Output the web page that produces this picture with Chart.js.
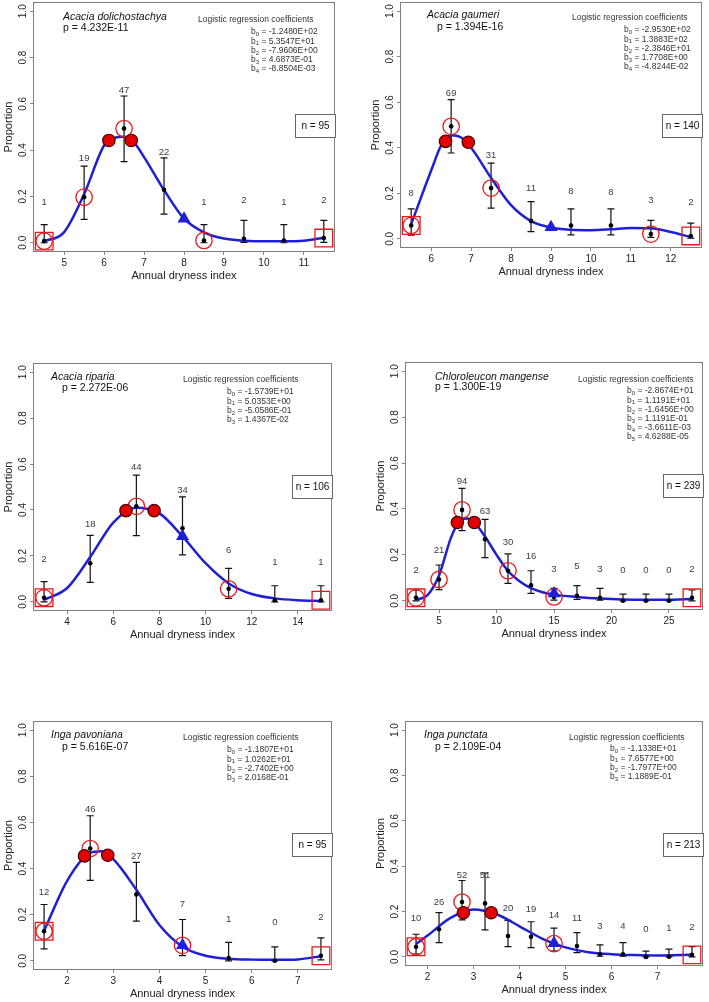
<!DOCTYPE html>
<html>
<head>
<meta charset="utf-8">
<script src="https://cdn.jsdelivr.net/npm/chart.js@4.4.1/dist/chart.umd.min.js"></script>
<style>
  body { margin: 0; background: #fff; }
  #wrap { position: relative; width: 709px; height: 1002px; overflow: hidden; background: #fff; }
  canvas { position: absolute; }
</style>
</head>
<body>
<div id="wrap"></div>
<script>
// ---- values ----
const yTicks = [0, 0.2, 0.4, 0.6, 0.8, 1.0];
const speciesNames = ['Acacia dolichostachya', 'Acacia gaumeri', 'Acacia riparia',
                      'Chloroleucon mangense', 'Inga pavoniana', 'Inga punctata'];
const pValues = ['4.232E-11', '1.394E-16', '2.272E-06', '1.300E-19', '5.616E-07', '2.109E-04'];
const nTotals = [95, 140, 106, 239, 95, 213];

// Acacia dolichostachya
const dolTicks = [5, 6, 7, 8, 9, 10, 11];
const dolX = [4.5, 5.5, 6.5, 7.5, 8.5, 9.5, 10.5, 11.5];
const dolProp = [0.007, 0.197, 0.493, 0.229, 0.010, 0.017, 0.010, 0.020];
const dolLo = [0, 0.101, 0.350, 0.124, 0, 0.002, 0, 0.002];
const dolHi = [0.078, 0.331, 0.634, 0.367, 0.078, 0.097, 0.078, 0.097];
const dolCount = [1, 19, 47, 22, 1, 2, 1, 2];
const dolCountY = [0.176, 0.363, 0.658, 0.392, 0.176, 0.183, 0.176, 0.183];
const dolCurveX = [4.5, 5, 5.5, 6, 6.25, 6.5, 6.75, 7, 7.5, 8, 8.5, 9, 9.5, 10, 10.5, 11, 11.5];
const dolCurveY = [0.006, 0.046, 0.21, 0.42, 0.452, 0.458, 0.432, 0.37, 0.228, 0.104, 0.045, 0.018, 0.009, 0.006, 0.006, 0.009, 0.022];
const dolCircleX = [4.5, 5.5, 6.5, 8.5];
const dolSquareX = [4.5, 11.5];
const dolRedX = [6.12, 6.68];
const dolRedY = [0.442, 0.442];
const dolTriX = [8.0];
const dolTriY = [0.104];
const dolCoef = ['-1.2480E+02', '5.3547E+01', '-7.9606E+00', '4.6873E-01', '-8.8504E-03'];

// Acacia gaumeri
const gauTicks = [6, 7, 8, 9, 10, 11, 12];
const gauX = [5.5, 6.5, 7.5, 8.5, 9.5, 10.5, 11.5, 12.5];
const gauProp = [0.059, 0.494, 0.223, 0.079, 0.059, 0.059, 0.021, 0.013];
const gauLo = [0.016, 0.377, 0.135, 0.032, 0.018, 0.018, 0.007, 0.003];
const gauHi = [0.132, 0.611, 0.333, 0.164, 0.132, 0.132, 0.081, 0.069];
const gauCount = [8, 69, 31, 11, 8, 8, 3, 2];
const gauCountY = [0.201, 0.641, 0.368, 0.223, 0.208, 0.204, 0.167, 0.161];
const gauCurveX = [5.5, 6, 6.25, 6.5, 6.75, 7, 7.5, 8, 8.5, 9, 9.5, 10, 10.5, 11, 11.5, 12, 12.5];
const gauCurveY = [0.065, 0.30, 0.41, 0.455, 0.445, 0.40, 0.268, 0.148, 0.078, 0.05, 0.04, 0.038, 0.042, 0.048, 0.047, 0.03, 0.008];
const gauCircleX = [5.5, 6.5, 7.5, 11.5];
const gauSquareX = [5.5, 12.5];
const gauRedX = [6.36, 6.93];
const gauRedY = [0.428, 0.424];
const gauTriX = [9.0];
const gauTriY = [0.051];
const gauCoef = ['-2.9530E+02', '1.3883E+02', '-2.3846E+01', '1.7708E+00', '-4.8244E-02'];

// Acacia riparia
const ripTicks = [4, 6, 8, 10, 12, 14];
const ripX = [3, 5, 7, 9, 11, 13, 15];
const ripProp = [0.018, 0.168, 0.416, 0.320, 0.057, 0.007, 0.007];
const ripLo = [0, 0.085, 0.288, 0.204, 0.015, 0, 0];
const ripHi = [0.088, 0.289, 0.552, 0.457, 0.146, 0.070, 0.070];
const ripCount = [2, 18, 44, 34, 6, 1, 1];
const ripCountY = [0.185, 0.336, 0.584, 0.486, 0.222, 0.172, 0.172];
const ripCurveX = [3, 4, 5, 6, 7, 8, 9, 10, 11, 12, 13, 14, 15];
const ripCurveY = [0.008, 0.06, 0.195, 0.345, 0.41, 0.385, 0.285, 0.168, 0.08, 0.034, 0.015, 0.007, 0.004];
const ripCircleX = [3, 7, 11];
const ripSquareX = [3, 15];
const ripRedX = [6.55, 7.77];
const ripRedY = [0.397, 0.397];
const ripTriX = [9.0];
const ripTriY = [0.285];
const ripCoef = ['-1.5739E+01', '5.0353E+00', '-5.0586E-01', '1.4367E-02'];

// Chloroleucon mangense
const chlTicks = [5, 10, 15, 20, 25];
const chlX = [3, 5, 7, 9, 11, 13, 15, 17, 19, 21, 23, 25, 27];
const chlProp = [0.013, 0.093, 0.396, 0.268, 0.131, 0.068, 0.017, 0.022, 0.013, 0, 0, 0, 0.013];
const chlLo = [0, 0.049, 0.306, 0.188, 0.076, 0.032, 0.003, 0.006, 0.003, 0, 0, 0, 0];
const chlHi = [0.047, 0.156, 0.49, 0.355, 0.204, 0.131, 0.054, 0.066, 0.054, 0.029, 0.029, 0.029, 0.047];
const chlCount = [2, 21, 94, 63, 30, 16, 3, 5, 3, 0, 0, 0, 2];
const chlCountY = [0.134, 0.218, 0.52, 0.389, 0.253, 0.192, 0.138, 0.148, 0.138, 0.131, 0.131, 0.131, 0.137];
const chlCurveX = [3, 4, 5, 6, 6.5, 7, 7.5, 8, 9, 10, 11, 12, 13, 14, 15, 17, 19, 21, 23, 25, 27];
const chlCurveY = [0.004, 0.025, 0.11, 0.27, 0.325, 0.355, 0.358, 0.345, 0.28, 0.2, 0.13, 0.085, 0.055, 0.037, 0.027, 0.017, 0.01, 0.006, 0.005, 0.005, 0.008];
const chlCircleX = [3, 5, 7, 11, 15];
const chlSquareX = [3, 27];
const chlRedX = [6.59, 8.07];
const chlRedY = [0.341, 0.341];
const chlTriX = [15];
const chlTriY = [0.032];
const chlCoef = ['-2.8674E+01', '1.1191E+01', '-1.6456E+00', '1.1191E-01', '-3.6611E-03', '4.6288E-05'];

// Inga pavoniana
const pavTicks = [2, 3, 4, 5, 6, 7];
const pavX = [1.5, 2.5, 3.5, 4.5, 5.5, 6.5, 7.5];
const pavProp = [0.128, 0.487, 0.288, 0.067, 0.012, 0, 0.022];
const pavLo = [0.052, 0.349, 0.172, 0.022, 0, 0, 0.004];
const pavHi = [0.244, 0.629, 0.427, 0.179, 0.08, 0.06, 0.099];
const pavCount = [12, 46, 27, 7, 1, 0, 2];
const pavCountY = [0.295, 0.656, 0.455, 0.244, 0.179, 0.167, 0.189];
const pavCurveX = [1.5, 2, 2.5, 2.75, 3, 3.5, 4, 4.5, 5, 5.5, 6, 6.5, 7, 7.5];
const pavCurveY = [0.13, 0.347, 0.468, 0.475, 0.441, 0.308, 0.155, 0.061, 0.022, 0.009, 0.005, 0.004, 0.006, 0.02];
const pavCircleX = [1.5, 2.5, 4.5];
const pavSquareX = [1.5, 7.5];
const pavRedX = [2.376, 2.88];
const pavRedY = [0.455, 0.458];
const pavTriX = [4.5];
const pavTriY = [0.067];
const pavCoef = ['-1.1807E+01', '1.0262E+01', '-2.7402E+00', '2.0168E-01'];

// Inga punctata
const punTicks = [2, 3, 4, 5, 6, 7];
const punX = [1.75, 2.25, 2.75, 3.25, 3.75, 4.25, 4.75, 5.25, 5.75, 6.25, 6.75, 7.25, 7.75];
const punProp = [0.045, 0.122, 0.242, 0.236, 0.092, 0.089, 0.059, 0.048, 0.012, 0.012, 0, 0.001, 0.009];
const punLo = [0.012, 0.063, 0.163, 0.119, 0.045, 0.041, 0.026, 0.019, 0.003, 0.003, 0, 0, 0];
const punHi = [0.1, 0.195, 0.337, 0.37, 0.161, 0.155, 0.127, 0.107, 0.053, 0.063, 0.026, 0.034, 0.045];
const punCount = [10, 26, 52, 51, 20, 19, 14, 11, 3, 4, 0, 1, 2];
const punCountY = [0.168, 0.242, 0.359, 0.359, 0.212, 0.209, 0.183, 0.17, 0.136, 0.136, 0.122, 0.124, 0.129];
const punCurveX = [1.75, 2, 2.5, 3, 3.5, 4, 4.5, 5, 5.5, 6, 6.5, 7, 7.5, 7.75];
const punCurveY = [0.057, 0.094, 0.172, 0.209, 0.188, 0.135, 0.08, 0.042, 0.021, 0.012, 0.008, 0.006, 0.008, 0.01];
const punCircleX = [1.75, 2.75, 4.75];
const punSquareX = [1.75, 7.75];
const punRedX = [2.78, 3.385];
const punRedY = [0.195, 0.195];
const punTriX = [4.75];
const punTriY = [0.06];
const punCoef = ['-1.1338E+01', '7.6577E+00', '-1.7977E+00', '1.1889E-01'];

// ---- layout ----
const FONT = "'Liberation Sans', Arial, sans-serif";
const RED = '#e8191c';
const BLUE = '#1f1fd8';

// box = plot frame [left, top, right, bottom] on the page; text offsets are from the frame's top-left
const panels = [
  { box: [33, 2, 335, 252], ticks: dolTicks, x: dolX, prop: dolProp, lo: dolLo, hi: dolHi,
    count: dolCount, countY: dolCountY, curveX: dolCurveX, curveY: dolCurveY,
    circles: dolCircleX, squares: dolSquareX, redX: dolRedX, redY: dolRedY, triX: dolTriX, triY: dolTriY,
    coef: dolCoef, sp: [30, 15], pv: [30, 26], lg: [165, 18], bc: [218, 30] },
  { box: [400, 2, 702, 248], ticks: gauTicks, x: gauX, prop: gauProp, lo: gauLo, hi: gauHi,
    count: gauCount, countY: gauCountY, curveX: gauCurveX, curveY: gauCurveY,
    circles: gauCircleX, squares: gauSquareX, redX: gauRedX, redY: gauRedY, triX: gauTriX, triY: gauTriY,
    coef: gauCoef, sp: [27, 13], pv: [37, 25], lg: [172, 16], bc: [224, 28] },
  { box: [33, 363, 332, 611], ticks: ripTicks, x: ripX, prop: ripProp, lo: ripLo, hi: ripHi,
    count: ripCount, countY: ripCountY, curveX: ripCurveX, curveY: ripCurveY,
    circles: ripCircleX, squares: ripSquareX, redX: ripRedX, redY: ripRedY, triX: ripTriX, triY: ripTriY,
    coef: ripCoef, sp: [18, 14], pv: [29, 25], lg: [150, 17], bc: [194, 29] },
  { box: [405, 362, 703, 610], ticks: chlTicks, x: chlX, prop: chlProp, lo: chlLo, hi: chlHi,
    count: chlCount, countY: chlCountY, curveX: chlCurveX, curveY: chlCurveY,
    circles: chlCircleX, squares: chlSquareX, redX: chlRedX, redY: chlRedY, triX: chlTriX, triY: chlTriY,
    coef: chlCoef, sp: [30, 15], pv: [30, 25], lg: [173, 18], bc: [222, 29] },
  { box: [33, 721, 332, 970], ticks: pavTicks, x: pavX, prop: pavProp, lo: pavLo, hi: pavHi,
    count: pavCount, countY: pavCountY, curveX: pavCurveX, curveY: pavCurveY,
    circles: pavCircleX, squares: pavSquareX, redX: pavRedX, redY: pavRedY, triX: pavTriX, triY: pavTriY,
    coef: pavCoef, sp: [18, 14], pv: [29, 26], lg: [150, 17], bc: [194, 29] },
  { box: [405, 721, 703, 966], ticks: punTicks, x: punX, prop: punProp, lo: punLo, hi: punHi,
    count: punCount, countY: punCountY, curveX: punCurveX, curveY: punCurveY,
    circles: punCircleX, squares: punSquareX, redX: punRedX, redY: punRedY, triX: punTriX, triY: punTriY,
    coef: punCoef, sp: [19, 14], pv: [30, 26], lg: [164, 17], bc: [205, 28] }
];

// error bars, count labels, frame, rotated y labels and the text blocks
function overlay(pn, k) {
  return {
    id: 'overlay',
    beforeDatasetsDraw(chart) {
      const { ctx, scales: { x, y } } = chart;
      ctx.save();
      ctx.strokeStyle = '#111';
      ctx.lineWidth = 1.2;
      pn.x.forEach((v, i) => {
        const px = x.getPixelForValue(v);
        const t = y.getPixelForValue(pn.hi[i]);
        const b = y.getPixelForValue(pn.lo[i]);
        ctx.beginPath();
        ctx.moveTo(px, t); ctx.lineTo(px, b);
        ctx.moveTo(px - 3.5, t); ctx.lineTo(px + 3.5, t);
        ctx.moveTo(px - 3.5, b); ctx.lineTo(px + 3.5, b);
        ctx.stroke();
      });
      ctx.restore();
    },
    afterDraw(chart) {
      const { ctx, chartArea: a, scales: { x, y } } = chart;
      ctx.save();
      ctx.strokeStyle = '#7f7f7f';
      ctx.lineWidth = 1;
      ctx.strokeRect(a.left + 0.5, a.top + 0.5, a.right - a.left - 1, a.bottom - a.top - 1);

      // y tick labels, turned like base R
      ctx.fillStyle = '#222';
      ctx.font = '10px ' + FONT;
      ctx.textAlign = 'center';
      ctx.textBaseline = 'middle';
      yTicks.forEach(v => {
        ctx.save();
        ctx.translate(a.left - 10, y.getPixelForValue(v));
        ctx.rotate(-Math.PI / 2);
        ctx.fillText(v.toFixed(1), 0, 0);
        ctx.restore();
      });

      // counts above the bars
      ctx.fillStyle = '#3c3c3c';
      ctx.font = '9.5px ' + FONT;
      pn.count.forEach((c, i) => {
        ctx.fillText(String(c), x.getPixelForValue(pn.x[i]), y.getPixelForValue(pn.countY[i]));
      });

      // species and p value
      ctx.textAlign = 'left';
      ctx.fillStyle = '#111';
      ctx.font = 'italic 10.5px ' + FONT;
      ctx.fillText(speciesNames[k], a.left + pn.sp[0], a.top + pn.sp[1]);
      ctx.font = '10.5px ' + FONT;
      ctx.fillText('p = ' + pValues[k], a.left + pn.pv[0], a.top + pn.pv[1]);

      // coefficients
      ctx.fillStyle = '#333';
      ctx.font = '8.5px ' + FONT;
      ctx.fillText('Logistic regression coefficients', a.left + pn.lg[0], a.top + pn.lg[1]);
      pn.coef.forEach((c, i) => {
        const bx = a.left + pn.bc[0];
        const by = a.top + pn.bc[1] + i * 9.2;
        ctx.font = '8.5px ' + FONT;
        ctx.fillText('b', bx, by);
        const w1 = ctx.measureText('b').width;
        ctx.font = '6px ' + FONT;
        ctx.fillText(String(i), bx + w1, by + 2.5);
        const w2 = ctx.measureText(String(i)).width;
        ctx.font = '8.5px ' + FONT;
        ctx.fillText(' = ' + c, bx + w1 + w2, by);
      });

      // n box
      const label = 'n = ' + nTotals[k];
      ctx.font = '10px ' + FONT;
      const bw = 41, bh = 24;
      const nx = a.right + 1 - bw, ny = a.top + 112;
      ctx.fillStyle = '#fff';
      ctx.fillRect(nx, ny, bw, bh);
      ctx.strokeStyle = '#666';
      ctx.strokeRect(nx + 0.5, ny + 0.5, bw - 1, bh - 1);
      ctx.fillStyle = '#111';
      ctx.textAlign = 'center';
      ctx.fillText(label, nx + bw / 2, ny + bh / 2);
      ctx.restore();
    }
  };
}

const wrap = document.getElementById('wrap');

panels.forEach((pn, k) => {
  const [L, T, R, B] = pn.box;
  const cl = L - 33, ct = T - 2;
  const cv = document.createElement('canvas');
  cv.width = R - cl + 4;
  cv.height = B - ct + 31;
  cv.style.left = cl + 'px';
  cv.style.top = ct + 'px';
  cv.style.width = cv.width + 'px';
  cv.style.height = cv.height + 'px';
  wrap.appendChild(cv);

  const span = pn.x[pn.x.length - 1] - pn.x[0];
  const atProp = v => ({ x: v, y: pn.prop[pn.x.indexOf(v)] });

  new Chart(cv, {
    type: 'scatter',
    data: {
      datasets: [
        { // fitted curve
          data: pn.curveX.map((v, i) => ({ x: v, y: pn.curveY[i] })),
          showLine: true, borderColor: BLUE, borderWidth: 2.5, pointRadius: 0,
          cubicInterpolationMode: 'monotone', order: 6
        },
        { // observed proportions
          data: pn.x.map((v, i) => ({ x: v, y: pn.prop[i] })),
          pointRadius: 2.3, pointBackgroundColor: '#000', pointBorderColor: '#000',
          pointBorderWidth: 0, order: 5
        },
        { // open circles
          data: pn.circles.map(atProp),
          pointStyle: 'circle', pointRadius: 8.2, pointBorderWidth: 1.3,
          pointBorderColor: RED, pointBackgroundColor: 'rgba(0,0,0,0)', clip: false, order: 4
        },
        { // open squares at the ends
          data: pn.squares.map(atProp),
          pointStyle: 'rect', pointRadius: 12.5, pointBorderWidth: 1.3,
          pointBorderColor: RED, pointBackgroundColor: 'rgba(0,0,0,0)', clip: false, order: 3
        },
        { // filled red circles on the curve
          data: pn.redX.map((v, i) => ({ x: v, y: pn.redY[i] })),
          pointStyle: 'circle', pointRadius: 6.2, pointBorderWidth: 1.2,
          pointBorderColor: '#4a0000', pointBackgroundColor: '#e30000', order: 2
        },
        { // blue triangle
          data: pn.triX.map((v, i) => ({ x: v, y: pn.triY[i] })),
          pointStyle: 'triangle', pointRadius: 7.5, pointBorderWidth: 0,
          pointBorderColor: BLUE, pointBackgroundColor: BLUE, order: 1
        }
      ]
    },
    options: {
      responsive: false,
      animation: false,
      events: [],
      layout: { autoPadding: false, padding: { left: 0, top: 2, right: 4, bottom: 0 } },
      plugins: { legend: { display: false }, tooltip: { enabled: false } },
      scales: {
        x: {
          type: 'linear',
          min: pn.x[0] - 0.04 * span,
          max: pn.x[pn.x.length - 1] + 0.04 * span,
          afterBuildTicks: s => { s.ticks = pn.ticks.map(v => ({ value: v })); },
          afterFit: s => { s.height = 31; },
          grid: { drawOnChartArea: false, drawTicks: true, tickLength: 3, color: '#888' },
          border: { display: false },
          ticks: { font: { family: FONT, size: 10 }, color: '#222', padding: 2, maxRotation: 0, autoSkip: false },
          title: { display: true, text: 'Annual dryness index', font: { family: FONT, size: 11 }, color: '#222', padding: 0 }
        },
        y: {
          type: 'linear',
          min: -0.04,
          max: 1.04,
          afterBuildTicks: s => { s.ticks = yTicks.map(v => ({ value: v })); },
          afterFit: s => { s.width = 33; },
          grid: { drawOnChartArea: false, drawTicks: true, tickLength: 3, color: '#888' },
          border: { display: false },
          ticks: { display: false },
          title: { display: true, text: 'Proportion', font: { family: FONT, size: 11 }, color: '#222', padding: { top: 2, bottom: 0 } }
        }
      }
    },
    plugins: [overlay(pn, k)]
  });
});
</script>
</body>
</html>
